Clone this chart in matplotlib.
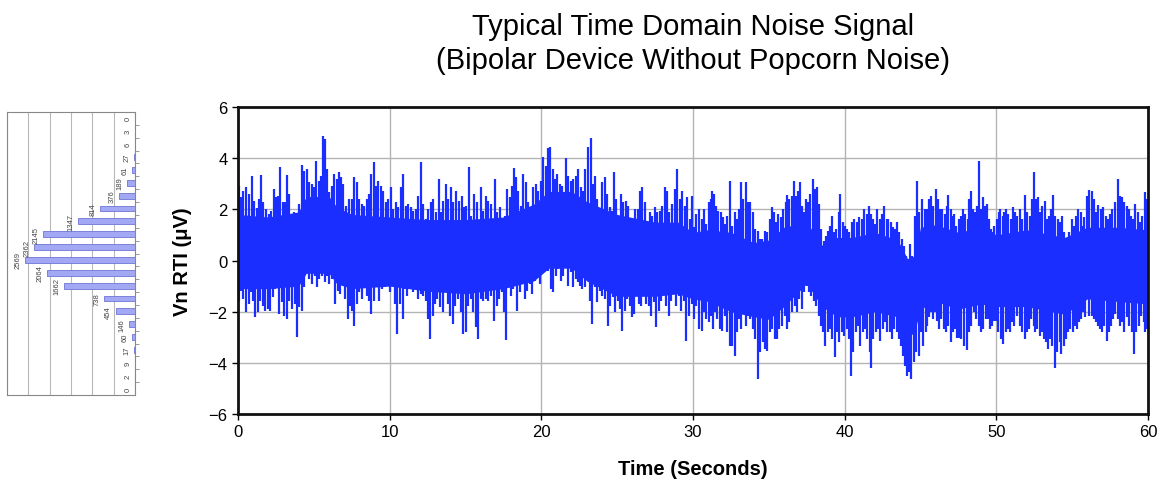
import numpy as np
import matplotlib
matplotlib.use("Agg")
from matplotlib import pyplot as plt
from matplotlib import ticker

plt.rcParams["font.family"] = ["Liberation Sans", "DejaVu Sans"]

SIGNAL_BLUE = "#1a2eff"

# solid core of the noise trace (uV)
t_band = [0, 2, 4, 4.5, 6, 6.5, 7.5, 10, 12.5, 15, 17.5, 19.5, 20.5, 22, 23,
          25, 27.5, 29, 30, 31, 32.5, 34, 35, 36, 37.5, 38.5, 39.5, 40.5, 42,
          43.5, 44.2, 44.6, 45, 46, 47.5, 49, 50, 52, 54.5, 56, 58, 60]
band_top = [1.8, 1.7, 1.9, 2.5, 2.5, 2.1, 1.8, 1.7, 1.6, 1.6, 1.7, 2.2, 2.7,
            2.7, 2.3, 1.8, 1.5, 1.5, 1.1, 1.2, 1.1, 0.7, 0.8, 1.3, 1.5, 0.6,
            0.9, 0.9, 1.1, 0.8, 0.0, 0.2, 1.3, 1.4, 1.1, 1.3, 1.0, 1.2, 0.9,
            1.3, 1.3, 1.2]
band_bot = [-1.1, -1.1, -1.0, -0.5, -0.5, -0.9, -1.1, -1.0, -1.2, -1.3, -1.1,
            -0.8, -0.3, -0.3, -0.8, -1.4, -1.4, -1.3, -1.5, -1.6, -2.0, -2.2,
            -2.3, -1.8, -0.9, -1.8, -2.2, -2.2, -2.0, -2.2, -3.0, -2.8, -1.9,
            -1.6, -1.9, -1.7, -1.8, -1.8, -2.1, -1.5, -1.6, -1.7]

# positive excursions (time s, uV)
t_up = [
    0.04, 0.20, 0.35, 0.53, 0.70, 0.90, 1.08, 1.23, 1.36, 1.52, 1.67, 1.85,
    2.02, 2.20, 2.35, 2.51, 2.66, 2.79, 2.95, 3.10, 3.25, 3.38, 3.54, 3.71,
    3.89, 4.04, 4.22, 4.37, 4.53, 4.70, 4.88, 5.03, 5.16, 5.32, 5.47, 5.58,
    5.74, 5.87, 6.02, 6.18, 6.35, 6.51, 6.66, 6.81, 6.95, 7.12, 7.34,
    7.50, 7.65, 7.82, 8.00, 8.15, 8.31, 8.48, 8.64, 8.75, 8.97, 9.10, 9.25,
    9.41, 9.58, 9.74, 9.91, 10.07, 10.24, 10.40, 10.57, 10.73, 10.90, 11.06,
    11.23, 11.41, 11.56, 11.74, 11.89, 12.05, 12.22, 12.40, 12.55, 12.73,
    12.88, 13.06, 13.23, 13.41, 13.54, 13.71, 13.87, 14.02, 14.20, 14.37,
    14.59, 14.77, 14.92,
    15.01, 15.23, 15.38, 15.56, 15.74, 16.00, 16.17, 16.35, 16.50, 16.66,
    16.92, 17.10, 17.27, 17.47, 17.60, 17.76, 17.91, 18.04, 18.20, 18.35,
    18.48, 18.64, 18.79, 18.97, 19.14, 19.30, 19.47, 19.63, 19.78, 19.96,
    20.13, 20.28, 20.44, 20.59, 20.75, 20.90, 21.05, 21.23, 21.38, 21.60,
    21.76, 21.93, 22.11, 22.28, 22.44,
    22.60, 22.75, 22.90, 23.08, 23.26, 23.41, 23.56, 23.69, 23.85, 24.00,
    24.18, 24.35, 24.51, 24.66, 24.79, 24.95, 25.10, 25.23, 25.39, 25.56,
    25.72, 25.89, 26.05, 26.20, 26.38, 26.53, 26.66, 26.82, 26.97, 27.15,
    27.30, 27.47, 27.65, 27.80, 27.96, 28.13, 28.29, 28.44, 28.62, 28.79,
    28.97, 29.12, 29.28, 29.45, 29.61, 29.78, 29.96,
    30.07, 30.22, 30.39, 30.57, 30.72, 30.88, 31.05, 31.18, 31.27, 31.40,
    31.54, 31.67, 31.82, 31.97, 32.11, 32.26, 32.43, 32.59, 32.74, 32.92,
    33.03, 33.18, 33.31, 33.51, 33.64, 33.79, 33.95, 34.12, 34.28, 34.43,
    34.56, 34.74, 34.91, 35.07, 35.22, 35.35, 35.48, 35.61, 35.77, 35.92,
    36.10, 36.23, 36.36, 36.51, 36.67, 36.80, 36.93, 37.04, 37.19, 37.32,
    37.46, 37.59, 37.74, 37.92, 38.05, 38.18, 38.33, 38.46, 38.62, 38.77,
    38.90, 39.04, 39.17, 39.32, 39.45, 39.61, 39.71, 39.87, 40.00, 40.15,
    40.31, 40.48, 40.64, 40.81, 40.96, 41.14, 41.29, 41.45, 41.58, 41.73,
    41.86, 42.02, 42.15, 42.30, 42.46, 42.61, 42.76, 42.89, 43.05, 43.18,
    43.33, 43.44, 43.60, 43.77, 43.90, 44.04, 44.17, 44.32, 44.47, 44.65,
    44.78, 44.91,
    45.11, 45.27, 45.44, 45.58, 45.71, 45.84, 46.00, 46.15, 46.28, 46.44,
    46.59, 46.73, 46.84, 46.99, 47.12, 47.21, 47.37, 47.52, 47.65, 47.81,
    47.96, 48.10, 48.23, 48.32, 48.45, 48.58, 48.72, 48.83, 48.96, 49.09,
    49.23, 49.36, 49.49, 49.65, 49.78, 49.87, 50.02, 50.15, 50.27, 50.42,
    50.53, 50.64, 50.80, 50.95, 51.08, 51.24, 51.37, 51.53, 51.68, 51.86,
    52.01, 52.19, 52.32, 52.46, 52.59, 52.74, 52.90, 53.03, 53.19, 53.32,
    53.45, 53.58, 53.74, 53.89, 54.07, 54.20, 54.34, 54.47, 54.62, 54.78,
    54.96, 55.09, 55.24, 55.40, 55.55, 55.66, 55.80, 55.95, 56.11, 56.28,
    56.44, 56.57, 56.73, 56.88, 57.06, 57.21, 57.37, 57.50, 57.65, 57.83,
    58.01, 58.14, 58.27, 58.43, 58.61, 58.76, 58.89, 59.03, 59.16, 59.31,
    59.47, 59.60, 59.78, 59.91]
v_up = [
    2.93, 2.47, 2.73, 2.86, 2.60, 3.29, 2.34, 2.04, 2.41, 3.34, 2.28, 2.01,
    1.82, 1.95, 2.80, 2.47, 2.54, 3.64, 2.28, 2.30, 3.34, 2.60, 1.75, 1.88,
    1.69, 2.21, 3.74, 3.51, 3.58, 3.06, 2.99, 2.86, 3.90, 3.12, 3.32, 4.86,
    4.76, 3.58, 2.67, 2.93, 3.38, 3.19, 3.45, 3.25, 2.99, 2.14, 2.41,
    2.41, 3.25, 3.06, 2.41, 2.21, 2.14, 2.41, 2.60, 3.38, 3.84, 2.93, 3.12,
    2.93, 2.73, 2.28, 2.41, 2.86, 2.01, 2.28, 2.08, 2.86, 3.38, 2.14, 2.21,
    2.08, 1.95, 2.01, 2.54, 3.84, 2.21, 1.62, 2.01, 2.28, 2.41, 1.88, 3.19,
    1.88, 2.34, 2.99, 2.41, 2.86, 2.28, 2.73, 2.34, 2.54, 2.08,
    2.14, 3.64, 1.75, 2.60, 2.28, 2.86, 1.95, 2.54, 2.34, 2.21, 3.19, 1.88,
    2.08, 1.62, 1.75, 2.80, 2.47, 2.93, 3.61, 3.25, 2.73, 2.14, 3.38, 3.06,
    2.28, 1.82, 2.86, 2.99, 2.73, 3.12, 4.04, 3.71, 4.39, 4.43, 3.58, 3.19,
    3.38, 2.99, 2.93, 4.00, 3.32, 3.12, 3.19, 3.32, 3.58,
    2.86, 2.73, 3.58, 4.43, 4.78, 2.99, 3.32, 2.41, 2.01, 3.06, 3.25, 2.60,
    2.08, 1.95, 3.45, 2.41, 1.04, 2.60, 2.28, 2.34, 2.14, 1.56, 1.36, 2.01,
    2.01, 2.73, 2.86, 2.28, 1.56, 1.88, 1.75, 2.08, 1.88, 1.95, 2.14, 2.86,
    2.73, 1.88, 2.21, 2.80, 3.58, 2.41, 2.73, 2.14, 2.47, 1.62, 2.54,
    1.30, 1.82, 2.01, 1.62, 2.01, 1.43, 2.28, 2.41, 2.73, 2.60,
    2.14, 1.95, 1.88, 1.69, 1.43, 1.75, 3.12, 1.36, 1.88, 1.62,
    2.01, 3.06, 2.41, 3.06, 2.28, 2.28, 1.88, 1.23, 1.17, 0.84,
    0.84, 1.17, 1.10, 1.62, 2.08, 1.88, 1.49, 1.82, 1.69, 2.01,
    2.28, 2.56, 2.41, 2.54, 3.12, 2.54, 2.73, 3.06, 2.14, 1.88,
    2.41, 2.28, 2.60, 3.19, 2.80, 2.86, 2.21, 1.23, 0.78, 0.97,
    1.17, 1.36, 1.75, 1.10, 1.23, 1.88, 2.60, 1.49, 1.36, 1.23,
    1.10, 1.49, 1.62, 1.49, 1.69, 1.62, 2.01, 1.82, 2.14, 1.82,
    1.62, 1.43, 2.01, 1.62, 1.82, 2.12, 1.62, 1.62, 1.49, 1.30,
    1.23, 1.49, 1.10, 0.84, 0.58, 0.19, 0.06, 0.65, 0.19, 1.75,
    3.12, 1.88,
    2.41, 2.01, 2.01, 2.41, 2.54, 2.14, 2.80, 2.41, 2.01, 2.01,
    1.82, 2.14, 2.56, 2.01, 1.75, 1.82, 1.36, 1.62, 1.75, 2.01,
    1.82, 1.62, 2.41, 2.73, 2.01, 1.88, 2.14, 3.90, 2.01, 2.47,
    2.14, 2.21, 1.62, 1.23, 1.10, 1.36, 1.62, 1.88, 2.01, 1.75,
    1.88, 2.01, 1.82, 1.62, 2.08, 1.88, 1.75, 2.01, 1.62, 2.57,
    1.88, 1.75, 2.41, 3.47, 2.41, 2.47, 1.88, 2.14, 2.34, 1.62,
    1.75, 2.01, 2.56, 1.75, 1.62, 1.49, 1.73, 1.10, 0.32, 1.10,
    1.62, 1.36, 1.75, 2.01, 1.88, 1.36, 1.69, 2.54, 2.77, 2.73,
    2.41, 1.88, 2.17, 2.01, 2.08, 1.75, 1.62, 1.82, 2.01, 2.28,
    3.19, 2.54, 2.47, 2.28, 2.14, 2.01, 1.75, 1.62, 2.21, 1.88,
    1.49, 1.75, 2.67, 2.41]

# negative excursions (time s, uV)
t_dn = [
    0.04, 0.20, 0.35, 0.53, 0.70, 0.86, 1.01, 1.14, 1.30, 1.45, 1.63, 1.80,
    1.96, 2.11, 2.29, 2.44, 2.59, 2.73, 2.88, 3.05, 3.21, 3.38, 3.56, 3.74,
    3.89, 4.04, 4.22, 4.37, 4.53, 4.70, 4.88, 5.05, 5.21, 5.36, 5.54, 5.71,
    5.87, 6.02, 6.20, 6.40, 6.57, 6.73, 6.90, 7.05, 7.23, 7.38,
    7.50, 7.65, 7.82, 8.00, 8.15, 8.31, 8.48, 8.64, 8.79, 8.97, 9.14, 9.32,
    9.50, 9.67, 9.85, 10.02, 10.18, 10.35, 10.51, 10.68, 10.86, 11.01, 11.17,
    11.34, 11.52, 11.69, 11.89, 12.05, 12.22, 12.40, 12.55, 12.66, 12.84,
    12.99, 13.14, 13.32, 13.50, 13.65, 13.82, 13.98, 14.15, 14.33, 14.53,
    14.70, 14.86,
    15.01, 15.16, 15.34, 15.52, 15.69, 15.82, 16.00, 16.17, 16.33, 16.48,
    16.66, 16.88, 17.05, 17.23, 17.38, 17.54, 17.67, 17.82, 17.98, 18.13,
    18.26, 18.42, 18.57, 18.75, 18.90, 19.08, 19.25, 19.41, 19.56, 19.74,
    19.91, 20.09, 20.28, 20.46, 20.61, 20.79, 20.94, 21.12, 21.30, 21.45,
    21.60, 21.78, 21.93, 22.11, 22.28, 22.44,
    22.53, 22.68, 22.86, 23.04, 23.19, 23.34, 23.52, 23.69, 23.85, 24.00,
    24.18, 24.40, 24.55, 24.73, 24.88, 25.06, 25.21, 25.34, 25.50, 25.67,
    25.83, 25.98, 26.11, 26.27, 26.44, 26.60, 26.77, 26.93, 27.08, 27.25,
    27.43, 27.58, 27.74, 27.91, 28.09, 28.24, 28.40, 28.57, 28.75, 28.90,
    29.08, 29.23, 29.41, 29.56, 29.74, 29.91,
    30.07, 30.22, 30.39, 30.57, 30.72, 30.88, 31.05, 31.18, 31.32, 31.45,
    31.60, 31.75, 31.93, 32.11, 32.26, 32.41, 32.59, 32.74, 32.87, 33.03,
    33.18, 33.33, 33.49, 33.64, 33.79, 33.95, 34.12, 34.28, 34.43, 34.61,
    34.76, 34.91, 35.07, 35.22, 35.39, 35.55, 35.70, 35.88, 36.05, 36.21,
    36.36, 36.54, 36.71, 36.86, 37.02, 37.19, 37.35, 37.50, 37.63, 37.79,
    37.96, 38.11, 38.29, 38.44, 38.60, 38.73, 38.88, 39.04, 39.19, 39.34,
    39.50, 39.65, 39.82, 39.98, 40.13, 40.29, 40.42, 40.57, 40.72, 40.88,
    41.03, 41.18, 41.34, 41.49, 41.64, 41.73, 41.89, 42.04, 42.19, 42.35,
    42.50, 42.65, 42.81, 42.96, 43.11, 43.27, 43.42, 43.55, 43.71, 43.86,
    43.99, 44.10, 44.25, 44.39, 44.54, 44.69, 44.87, 45.02,
    45.18, 45.33, 45.44, 45.55, 45.71, 45.84, 45.97, 46.11, 46.24, 46.37,
    46.55, 46.68, 46.84, 46.99, 47.12, 47.26, 47.39, 47.54, 47.70, 47.88,
    48.05, 48.21, 48.36, 48.54, 48.69, 48.85, 48.98, 49.14, 49.29, 49.42,
    49.58, 49.73, 49.87, 49.98, 50.13, 50.31, 50.46, 50.62, 50.75, 50.91,
    51.06, 51.19, 51.37, 51.53, 51.68, 51.86, 52.01, 52.17, 52.30, 52.46,
    52.57, 52.70, 52.85, 53.01, 53.14, 53.25, 53.41, 53.56, 53.69, 53.85,
    54.03, 54.18, 54.29, 54.45, 54.60, 54.73, 54.89, 55.04, 55.18, 55.29,
    55.44, 55.60, 55.73, 55.84, 56.00, 56.13, 56.28, 56.44, 56.57, 56.73,
    56.84, 56.99, 57.12, 57.28, 57.43, 57.57, 57.72, 57.83, 57.99, 58.14,
    58.30, 58.45, 58.61, 58.76, 58.94, 59.09, 59.23, 59.38, 59.56, 59.71,
    59.82, 59.96]
v_dn = [
    -1.57, -1.18, -1.50, -2.03, -1.70, -1.25, -1.57, -2.22, -2.03, -1.57,
    -1.77, -1.96, -1.90, -1.96, -1.44, -1.11, -0.85, -2.09, -1.64, -2.16,
    -2.29, -1.57, -1.90, -1.70, -3.00, -1.83, -1.96, -1.05, -0.40, -0.72,
    -0.92, -0.59, -1.05, -0.72, -0.59, -0.85, -0.59, -0.92, -0.72, -1.70,
    -1.18, -1.31, -0.98, -1.50, -2.29, -1.77,
    -1.96, -2.55, -1.70, -1.25, -1.50, -0.98, -1.37, -1.57, -2.09, -1.57,
    -0.92, -1.57, -1.11, -1.05, -0.72, -1.25, -0.85, -1.70, -2.87, -1.70,
    -2.29, -1.11, -1.37, -0.98, -1.25, -1.11, -1.50, -1.31, -1.37, -1.57,
    -2.29, -3.07, -2.16, -1.70, -1.50, -1.83, -2.03, -1.25, -1.70, -2.16,
    -2.48, -1.77, -1.50, -2.03, -2.87,
    -2.81, -1.77, -1.50, -2.03, -2.61, -3.07, -1.50, -1.57, -1.50, -1.57,
    -1.37, -2.35, -1.77, -1.50, -1.25, -2.03, -3.10, -0.59, -1.37, -1.11,
    -0.98, -1.96, -1.25, -0.85, -1.50, -1.18, -0.92, -1.31, -0.79, -0.59,
    -0.92, -0.46, -0.01, -0.40, -1.11, -1.25, -0.59, -0.33, -0.79, -0.59,
    -0.20, -0.98, -0.46, -1.05, -0.72, -0.85,
    -0.98, -1.11, -1.05, -0.59, -1.57, -2.48, -1.05, -1.64, -1.18, -1.37,
    -1.50, -2.55, -1.77, -1.44, -2.03, -1.57, -1.90, -2.74, -1.96, -1.50,
    -1.77, -2.22, -2.09, -1.25, -1.70, -1.77, -1.37, -1.70, -1.77, -2.16,
    -1.64, -2.61, -1.96, -1.57, -1.25, -1.77, -2.16, -1.57, -1.31, -1.77,
    -1.37, -1.96, -1.57, -3.13, -2.16, -1.70,
    -2.29, -1.77, -2.68, -2.74, -2.03, -2.29, -2.42, -2.16, -2.68, -2.03,
    -2.29, -2.68, -2.74, -2.16, -2.81, -3.33, -3.33, -3.72, -2.81, -2.29,
    -2.68, -2.03, -2.55, -2.16, -2.29, -2.68, -3.07, -4.63, -3.59, -3.20,
    -3.46, -3.53, -2.81, -2.68, -3.07, -3.07, -2.68, -2.55, -2.16, -2.68,
    -2.42, -2.03, -1.77, -2.03, -1.51, -1.90, -1.25, -0.98, -1.25, -1.38,
    -1.57, -1.77, -2.16, -2.55, -2.81, -3.33, -2.81, -2.68, -3.07, -3.79,
    -2.81, -3.20, -2.81, -2.94, -2.68, -3.07, -4.50, -3.59, -2.81, -2.55,
    -3.33, -2.81, -2.68, -3.07, -3.59, -4.22, -3.07, -2.81, -2.68, -3.14,
    -2.68, -2.42, -2.81, -2.81, -3.07, -2.68, -2.81, -3.07, -3.33, -3.72,
    -4.11, -4.50, -4.37, -4.63, -3.98, -3.59, -3.72, -2.81,
    -3.33, -2.81, -2.55, -2.22, -2.03, -2.29, -2.03, -2.35, -2.68, -2.29,
    -2.68, -2.81, -2.55, -3.20, -2.81, -2.68, -3.01, -3.01, -3.07, -3.33,
    -3.49, -2.81, -2.55, -2.03, -2.29, -2.55, -2.81, -2.68, -2.29, -2.29,
    -2.68, -2.55, -2.35, -2.35, -2.81, -3.07, -3.27, -2.81, -2.68, -2.81,
    -2.42, -2.55, -2.16, -2.55, -2.81, -3.07, -2.81, -2.68, -2.29, -2.55,
    -2.81, -2.68, -2.94, -2.81, -3.07, -3.20, -3.46, -3.07, -3.33, -4.22,
    -3.59, -3.20, -3.66, -3.33, -3.07, -2.81, -2.68, -2.81, -2.55, -2.68,
    -2.42, -2.29, -2.03, -2.22, -1.51, -2.16, -2.16, -2.29, -2.42, -2.55,
    -2.68, -2.81, -2.55, -3.14, -2.81, -2.55, -2.29, -2.09, -2.29, -2.55,
    -2.42, -2.81, -2.22, -2.55, -2.81, -3.66, -2.81, -2.55, -2.16, -2.42,
    -2.81, -2.68]

# amplitude histogram, bins from most negative to most positive
hist_counts = [0, 2, 9, 17, 60, 146, 454, 738, 1662, 2064, 2569, 2362, 2145,
               1347, 814, 376, 189, 61, 27, 6, 3, 0]


def draw_histogram(ax):
    pos = np.arange(len(hist_counts))
    ax.barh(pos, hist_counts, height=0.45, color="#a3a8f4",
            edgecolor="#6f74d6", linewidth=0.6, zorder=2)
    for p, c in zip(pos, hist_counts):
        ax.text(c + 80, p, str(c), rotation=90, ha="right", va="center",
                fontsize=5.5, color="#444444")
    ax.set_xlim(3000, 0)
    ax.set_ylim(-0.5, len(hist_counts) - 0.5)
    ax.xaxis.set_major_locator(ticker.MultipleLocator(500))
    ax.grid(axis="x", color="#b8b8b8", linewidth=0.8, zorder=0)
    ax.set_xticklabels([])
    ax.tick_params(axis="x", length=0)
    ax.yaxis.tick_right()
    ax.set_yticks(pos[:-1] + 0.5)
    ax.set_yticklabels([])
    ax.tick_params(axis="y", length=3, width=0.6, color="#888888")
    for s in ax.spines.values():
        s.set_color("#888888")
        s.set_linewidth(0.8)


def main():
    fig = plt.figure(figsize=(11.64, 4.85), dpi=100)

    hax = fig.add_axes([7 / 1164, 89 / 485, 128 / 1164, 283 / 485])
    draw_histogram(hax)

    ax = fig.add_axes([238 / 1164, 70 / 485, 910 / 1164, 307 / 485])
    ax.fill_between(t_band, band_bot, band_top, color=SIGNAL_BLUE,
                    linewidth=0, zorder=2)
    ax.vlines(t_up, 0, v_up, color=SIGNAL_BLUE, linewidth=1.6, zorder=2)
    ax.vlines(t_dn, 0, v_dn, color=SIGNAL_BLUE, linewidth=1.6, zorder=2)

    ax.set_xlim(0, 60)
    ax.set_ylim(-6, 6)
    ax.xaxis.set_major_locator(ticker.MultipleLocator(10))
    ax.yaxis.set_major_locator(ticker.MultipleLocator(2))
    ax.grid(True, color="#b4b4b4", linewidth=1.0, zorder=0)
    ax.set_axisbelow(True)
    ax.tick_params(labelsize=12, length=4, width=1)
    for s in ax.spines.values():
        s.set_linewidth(2)
        s.set_color("#111111")

    ax.set_xlabel("Time (Seconds)", fontsize=14.5, fontweight="bold",
                  labelpad=14)
    ax.set_ylabel("Vn RTI (\u03bcV)", fontsize=14.5, fontweight="bold",
                  labelpad=12)
    ax.set_title("Typical Time Domain Noise Signal\n"
                 "(Bipolar Device Without Popcorn Noise)",
                 fontsize=21, pad=28, linespacing=1.3)

    fig.savefig("out.png", dpi=100)


if __name__ == "__main__":
    main()
